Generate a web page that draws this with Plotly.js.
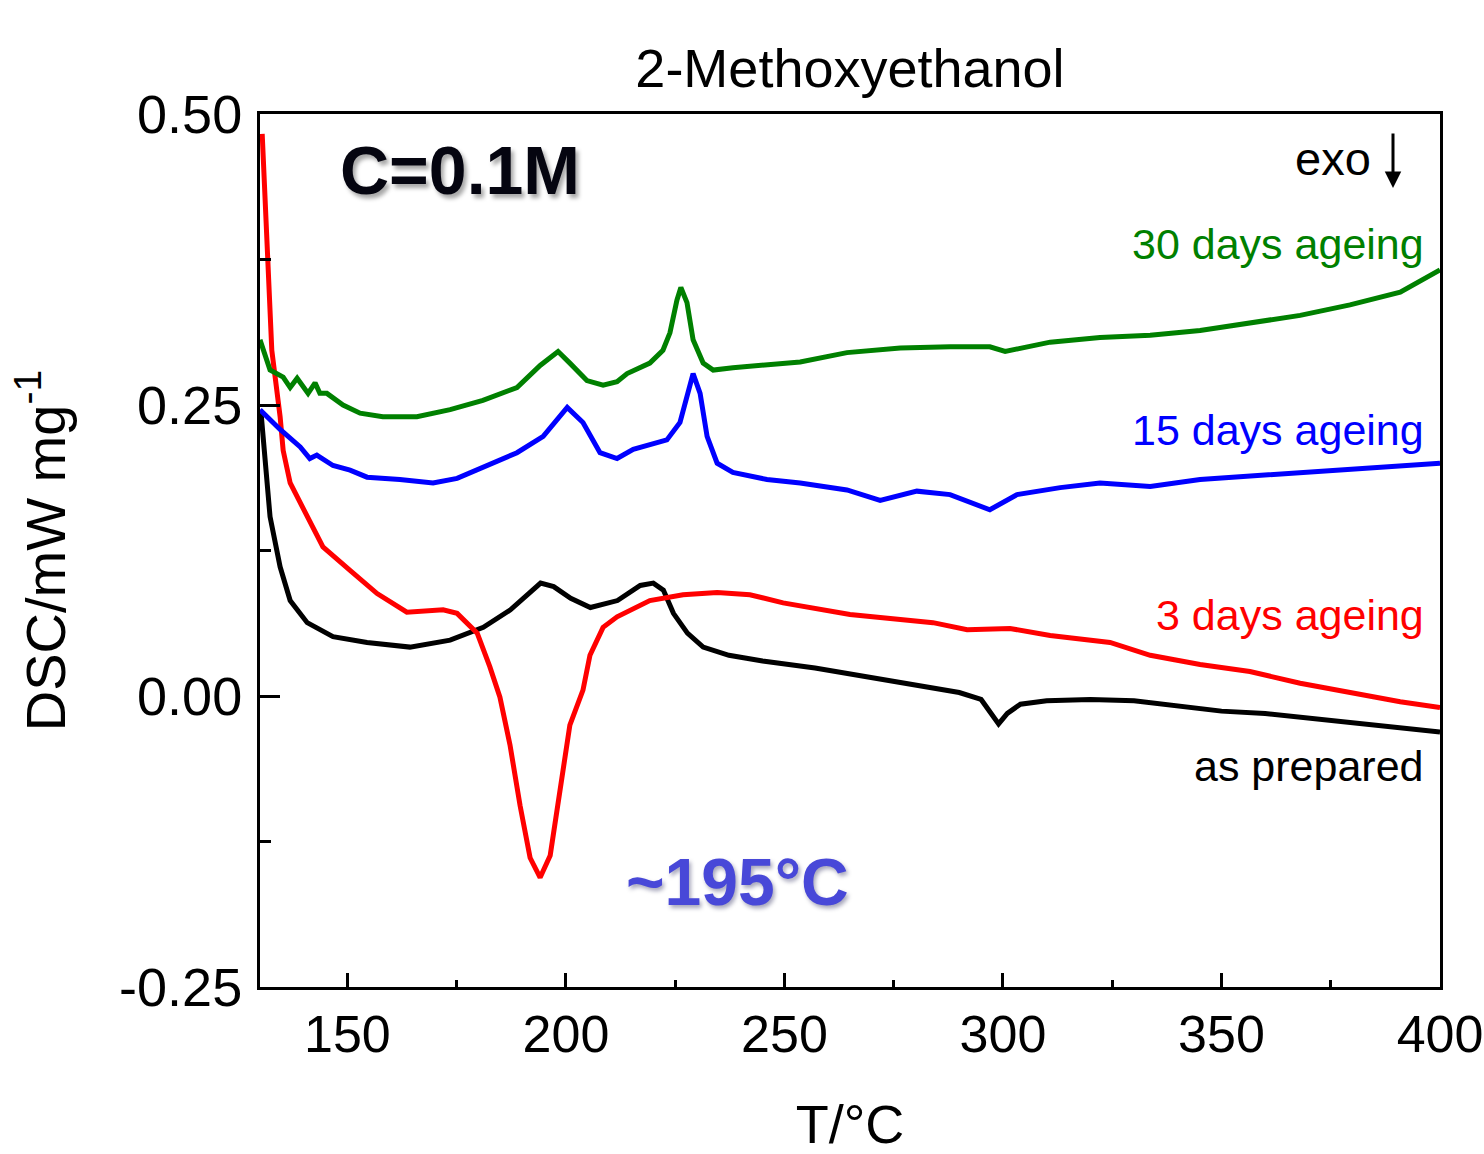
<!DOCTYPE html>
<html>
<head>
<meta charset="utf-8">
<script src="https://cdn.plot.ly/plotly-3.0.1.min.js"></script>
<style>
  html, body { margin: 0; padding: 0; background: #ffffff; }
  #chart { width: 1484px; height: 1154px; }
</style>
</head>
<body>
<div id="chart"></div>
<script>
// As prepared (black)
const xPrepared = [130.2, 131.5, 132.3, 134.6, 136.9, 140.8, 146.7, 154.5, 164.3, 173.5, 181.1, 187.3, 194.2, 197.2, 201.1, 205.6, 211.8, 217.0, 220.0, 222.3, 224.6, 227.8, 231.4, 237.3, 245, 257, 268, 280, 290, 295, 298, 299, 301, 304, 310, 320, 330, 340, 350, 360, 370, 380, 390, 400];
const yPrepared = [0.245, 0.194, 0.154, 0.111, 0.082, 0.063, 0.051, 0.046, 0.042, 0.048, 0.059, 0.074, 0.097, 0.094, 0.084, 0.076, 0.082, 0.095, 0.097, 0.091, 0.071, 0.054, 0.042, 0.035, 0.030, 0.024, 0.017, 0.009, 0.003, -0.003, -0.018, -0.024, -0.015, -0.007, -0.004, -0.003, -0.004, -0.009, -0.013, -0.015, -0.019, -0.023, -0.027, -0.031];

// 3 days ageing (red)
const x3d = [130.5, 131.1, 131.8, 132.7, 134.6, 135.3, 136.9, 140.8, 144.4, 150.6, 156.8, 163.6, 171.9, 175.1, 179.7, 182.6, 184.9, 187.2, 189.5, 191.8, 194.1, 196.4, 198.6, 200.9, 203.9, 205.5, 208.5, 211.7, 219.2, 226.8, 234.6, 242.1, 249.7, 265.0, 284.0, 291.8, 301.6, 310.8, 324.5, 333.7, 345.1, 356.5, 368.0, 379.4, 390.9, 400];
const y3d = [0.483, 0.426, 0.357, 0.297, 0.240, 0.211, 0.183, 0.154, 0.128, 0.108, 0.088, 0.072, 0.074, 0.071, 0.054, 0.025, -0.001, -0.042, -0.094, -0.139, -0.156, -0.137, -0.081, -0.025, 0.005, 0.035, 0.059, 0.068, 0.082, 0.087, 0.089, 0.087, 0.080, 0.070, 0.063, 0.057, 0.058, 0.052, 0.046, 0.035, 0.027, 0.021, 0.011, 0.003, -0.005, -0.010];

// 15 days ageing (blue)
const x15d = [130, 134.6, 139.2, 141.4, 143.0, 146.7, 150.6, 154.5, 162.0, 169.6, 175.1, 181.0, 188.8, 194.8, 200.3, 203.9, 207.8, 211.7, 215.4, 223.1, 226.1, 229.1, 230.7, 232.3, 234.6, 238.2, 246.0, 253.6, 264.3, 271.9, 280.3, 287.9, 297.0, 303.2, 313.1, 322.2, 333.7, 345.1, 356.5, 368.0, 379.4, 390.9, 400];
const y15d = [0.246, 0.229, 0.214, 0.204, 0.207, 0.198, 0.194, 0.188, 0.186, 0.183, 0.187, 0.196, 0.209, 0.223, 0.248, 0.235, 0.209, 0.204, 0.212, 0.220, 0.235, 0.277, 0.260, 0.223, 0.200, 0.192, 0.186, 0.183, 0.177, 0.168, 0.176, 0.173, 0.160, 0.173, 0.179, 0.183, 0.180, 0.186, 0.189, 0.192, 0.194, 0.197, 0.200];

// 30 days ageing (green)
const x30d = [130, 132.3, 135.3, 136.9, 138.5, 141.0, 142.6, 143.7, 145.3, 149.0, 152.9, 158.1, 165.9, 173.5, 181.0, 188.8, 194.1, 198.2, 200.9, 204.8, 208.5, 211.7, 214.0, 219.2, 222.2, 223.8, 225.4, 226.3, 227.7, 229.1, 231.4, 233.7, 238.2, 246.0, 253.6, 264.3, 276.5, 287.9, 297.0, 300.5, 303.9, 310.8, 322.2, 333.7, 345.1, 356.5, 368.0, 379.4, 390.9, 400];
const y30d = [0.306, 0.280, 0.274, 0.265, 0.273, 0.260, 0.269, 0.260, 0.260, 0.250, 0.243, 0.240, 0.240, 0.246, 0.254, 0.265, 0.284, 0.296, 0.286, 0.271, 0.267, 0.270, 0.277, 0.286, 0.297, 0.312, 0.340, 0.351, 0.338, 0.306, 0.286, 0.280, 0.282, 0.284, 0.287, 0.295, 0.299, 0.300, 0.300, 0.296, 0.299, 0.304, 0.308, 0.310, 0.314, 0.320, 0.327, 0.336, 0.347, 0.366];

const seriesNames = ["as prepared", "3 days ageing", "15 days ageing", "30 days ageing"];
const xTickVals = [150, 200, 250, 300, 350, 400];
const yTickVals = [-0.25, 0.00, 0.25, 0.50];
const yTickText = ["-0.25", "0.00", "0.25", "0.50"];

const FONT = "Liberation Sans, Arial, sans-serif";
const LW = 5;

const traces = [
  {x: xPrepared, y: yPrepared, name: seriesNames[0], mode: "lines", line: {color: "#000000", width: LW}},
  {x: x3d, y: y3d, name: seriesNames[1], mode: "lines", line: {color: "#ff0000", width: LW}},
  {x: x15d, y: y15d, name: seriesNames[2], mode: "lines", line: {color: "#0000ff", width: LW}},
  {x: x30d, y: y30d, name: seriesNames[3], mode: "lines", line: {color: "#008000", width: LW}}
];

const layout = {
  width: 1484,
  height: 1154,
  paper_bgcolor: "#ffffff",
  plot_bgcolor: "#ffffff",
  showlegend: false,
  margin: {l: 260, r: 44, t: 114, b: 167},
  font: {family: FONT, color: "#000000"},
  title: {
    text: "2-Methoxyethanol",
    font: {family: FONT, size: 54, color: "#000000"},
    x: 0.5, xref: "paper", xanchor: "center",
    y: 1 - 68 / 1154, yref: "container", yanchor: "middle"
  },
  xaxis: {
    range: [130, 400],
    tickmode: "array",
    tickvals: xTickVals,
    ticks: "inside",
    ticklen: 14,
    tickwidth: 3,
    tickcolor: "#000000",
    minor: {dtick: 25, tick0: 125, ticks: "inside", ticklen: 7, tickwidth: 3, tickcolor: "#000000", showgrid: false},
    showline: true,
    linewidth: 3,
    linecolor: "#000000",
    mirror: true,
    showgrid: false,
    zeroline: false,
    tickfont: {family: FONT, size: 52, color: "#000000"},
    title: {text: "T/°C", font: {family: FONT, size: 54, color: "#000000"}, standoff: 48}
  },
  yaxis: {
    range: [-0.25, 0.50],
    tickmode: "array",
    tickvals: yTickVals,
    ticktext: yTickText,
    ticks: "inside",
    ticklen: 20,
    tickwidth: 3,
    tickcolor: "#000000",
    minor: {dtick: 0.125, tick0: 0, ticks: "inside", ticklen: 11, tickwidth: 3, tickcolor: "#000000", showgrid: false},
    showline: true,
    linewidth: 3,
    linecolor: "#000000",
    mirror: true,
    showgrid: false,
    zeroline: false,
    ticklabelstandoff: 4,
    tickfont: {family: FONT, size: 54, color: "#000000"},
    title: {text: "DSC/mW mg<sup>-1</sup>", font: {family: FONT, size: 56, color: "#000000"}, standoff: 36}
  },
  annotations: [
    {text: "C=0.1M", xref: "paper", yref: "paper", x: (460 - 260) / 1180, y: (987 - 170) / 873,
     xanchor: "center", yanchor: "middle", showarrow: false,
     font: {family: FONT, size: 68, color: "#050510", weight: "bold", shadow: "3px 4px 4px rgba(0,0,0,0.35)"}},
    {text: "exo", xref: "paper", yref: "paper", x: (1333 - 260) / 1180, y: (987 - 158) / 873,
     xanchor: "center", yanchor: "middle", showarrow: false,
     font: {family: FONT, size: 47, color: "#000000"}},
    {text: "", xref: "paper", yref: "paper", x: (1393 - 260) / 1180, y: (987 - 188) / 873,
     showarrow: true, ax: 0, ay: -56, arrowhead: 2, arrowsize: 1.1, arrowwidth: 3, arrowcolor: "#000000"},
    {text: "30 days ageing", xref: "paper", yref: "paper", x: (1426 - 260) / 1180, y: (987 - 244) / 873,
     xanchor: "right", yanchor: "middle", showarrow: false,
     font: {family: FONT, size: 43, color: "#008000"}},
    {text: "15 days ageing", xref: "paper", yref: "paper", x: (1426 - 260) / 1180, y: (987 - 430) / 873,
     xanchor: "right", yanchor: "middle", showarrow: false,
     font: {family: FONT, size: 43, color: "#0000ff"}},
    {text: "3 days ageing", xref: "paper", yref: "paper", x: (1426 - 260) / 1180, y: (987 - 615) / 873,
     xanchor: "right", yanchor: "middle", showarrow: false,
     font: {family: FONT, size: 43, color: "#ff0000"}},
    {text: "as prepared", xref: "paper", yref: "paper", x: (1426 - 260) / 1180, y: (987 - 766) / 873,
     xanchor: "right", yanchor: "middle", showarrow: false,
     font: {family: FONT, size: 43, color: "#000000"}},
    {text: "~195°C", xref: "paper", yref: "paper", x: (737 - 260) / 1180, y: (987 - 882) / 873,
     xanchor: "center", yanchor: "middle", showarrow: false,
     font: {family: FONT, size: 66, color: "#4848d8", weight: "bold", shadow: "2px 3px 4px rgba(0,0,60,0.35)"}}
  ]
};

Plotly.newPlot("chart", traces, layout, {displayModeBar: false, staticPlot: true});
</script>
</body>
</html>
